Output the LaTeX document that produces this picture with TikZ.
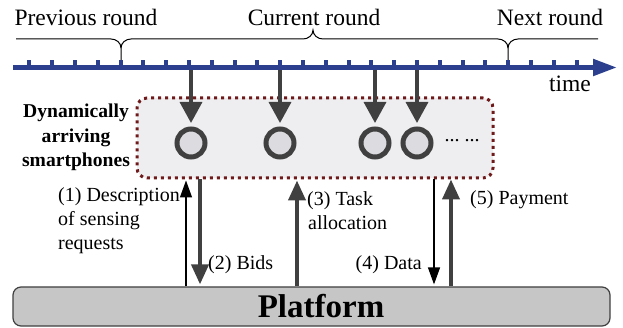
\documentclass[tikz,border=0pt]{standalone}
\usepackage{fontspec}
\setmainfont{Liberation Serif}
\usetikzlibrary{arrows.meta}
\definecolor{axisblue}{HTML}{2B3F8E}
\definecolor{arrowgray}{HTML}{404040}
\definecolor{dotred}{HTML}{6E1A1A}
\definecolor{groupfill}{HTML}{EEEDEF}
\definecolor{platfill}{HTML}{C6C6C6}
\definecolor{phonefill}{HTML}{DCDCE0}
\tikzset{
  toplabel/.style={font=\fontsize{23.5}{28}\selectfont, inner sep=0pt, anchor=base},
  lbl/.style={font=\fontsize{20}{24}\selectfont, inner sep=0pt, align=left},
  phone/.style={circle, draw=arrowgray, line width=5pt, fill=phonefill, minimum size=28pt, inner sep=0pt},
  droparrow/.style={draw=arrowgray, line width=3.5pt, -{Triangle[length=21pt,width=22pt]}, arrowgray},
  thickflow/.style={draw=arrowgray, line width=4pt, -{Triangle[length=20pt,width=17pt]}, arrowgray},
  thinflow/.style={draw=black, line width=1.3pt, -{Triangle[length=17pt,width=12pt]}},
  tick/.style={fill=axisblue, draw=none},
}
\begin{document}
\begin{tikzpicture}[x=1pt, y=-1pt]
\useasboundingbox (0,0) rectangle (623,328);

% round labels and the brace line above the time axis
\node[toplabel] (prev) at (86,26) {Previous round};
\node[toplabel] (curr) at (314,26) {Current round};
\node[toplabel] (next) at (550,26) {Next round};
\draw[line width=1pt] (16,39) -- (111,39) to[out=0,in=90] (121,48) -- (121,63);
\draw[line width=1pt] (121,48) to[out=90,in=180] (131,39) -- (303,39)
  to[out=0,in=-90] (313,30) to[out=-90,in=180] (323,39) -- (498,39)
  to[out=0,in=90] (508,48) -- (508,63);
\draw[line width=1pt] (508,48) to[out=90,in=180] (518,39) -- (598,39);

% group of arriving smartphones
\node[draw=dotred, fill=groupfill, line width=3pt, dash pattern=on 3pt off 4pt,
      rounded corners=10pt, minimum width=356pt, minimum height=80pt, inner sep=0pt]
      (group) at (315,138) {};
\node[font=\fontsize{19.6}{24.5}\selectfont\bfseries, align=center, inner sep=0pt, anchor=base]
      (grouplbl) at (76,167) {Dynamically\\arriving\\smartphones};

\node[phone] (s1) at (191,143) {};
\node[phone] (s2) at (280,143) {};
\node[phone] (s3) at (375,143) {};
\node[phone] (s4) at (417,143) {};
\node[font=\fontsize{20}{24}\selectfont, inner sep=0pt, anchor=base] (more) at (462,142) {...~...};

% time axis
\coordinate (tl) at (13,67.5);
\coordinate (tr) at (617,67.5);
\foreach \k in {0,...,24} {
  \fill[tick] ({29.3+22.8*\k-2},60) rectangle ({29.3+22.8*\k+2},66);
}
\foreach \s in {s1,s2,s3,s4} {
  \draw[droparrow, shorten >=3.5pt] (\s |- tl) -- (\s.north);
}
\draw[axisblue, line width=5pt, -{Triangle[length=24pt,width=16pt]}] (tl) -- (tr);
\node[toplabel] (time) at (570,92) {time};

% platform
\node[draw=arrowgray, fill=platfill, line width=1.2pt, rounded corners=8pt,
      minimum width=597pt, minimum height=39pt, inner sep=0pt] (platform) at (311.5,306.5) {};
\node[font=\fontsize{33}{36}\selectfont\bfseries, inner sep=0pt, anchor=base] (platlbl) at (321,317) {Platform};

% message flows between smartphones and platform
\coordinate (x1) at (186,0);
\coordinate (x2) at (200,0);
\coordinate (x3) at (297,0);
\coordinate (x4) at (434,0);
\coordinate (x5) at (451,0);
\draw[thinflow, shorten >=1pt] (platform.north -| x1) -- (group.south -| x1);
\draw[thickflow, shorten >=2pt] (group.south -| x2) -- (platform.north -| x2);
\draw[thickflow, shorten >=1pt] (platform.north -| x3) -- (group.south -| x3);
\draw[thinflow, shorten >=2pt] (group.south -| x4) -- (platform.north -| x4);
\draw[thickflow, shorten >=0pt] (platform.north -| x5) -- (group.south -| x5);

\node[lbl, anchor=base west] (l1) at (58,250) {(1) Description\\of sensing\\requests};
\node[lbl, anchor=base west] (l2) at (208,270) {(2) Bids};
\node[lbl, anchor=base west] (l3) at (307,230) {(3) Task\\\hspace{1pt}allocation};
\node[lbl, anchor=base east] (l4) at (422,270) {(4) Data};
\node[lbl, anchor=base west] (l5) at (470,205) {(5) Payment};
\end{tikzpicture}
\end{document}
